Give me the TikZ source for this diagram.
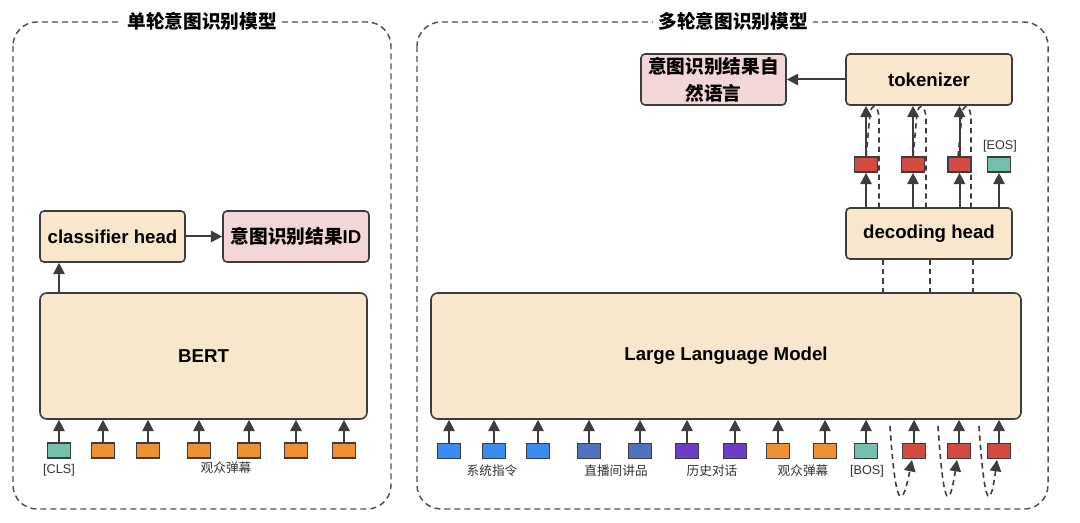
\documentclass[tikz,border=0pt]{standalone}
\usepackage{fontspec}
\setmainfont{Liberation Sans}
\newfontfamily\cjk{Noto Sans CJK SC}
\usetikzlibrary{arrows.meta}
\definecolor{boxfill}{HTML}{F9E7CB}
\definecolor{pinkfill}{HTML}{F3D6D8}
\definecolor{linegray}{HTML}{3D3D3D}
\definecolor{framegray}{HTML}{505050}
\definecolor{labelgray}{HTML}{333333}
\definecolor{tokteal}{HTML}{74BFAD}
\definecolor{tokorange}{HTML}{EC9235}
\definecolor{tokblue}{HTML}{3A8CF2}
\definecolor{toksteel}{HTML}{4F71BE}
\definecolor{tokpurple}{HTML}{6A3DC6}
\definecolor{tokred}{HTML}{D44A40}
\begin{document}
\begin{tikzpicture}[x=0.75pt, y=-0.75pt,
    every node/.style={font=\fontsize{14pt}{17pt}\selectfont\bfseries},
    block/.style={draw=linegray, line width=1.2pt, rounded corners=3pt, fill=boxfill,
        minimum height=38.25pt, inner sep=0pt, align=center},
    tokbox/.style={draw=linegray, line width=1.3pt, minimum width=17.25pt,
        minimum height=11.25pt, inner sep=0pt},
    frame/.style={draw=framegray, dash pattern=on 4.5pt off 3pt, line width=1.1pt, rounded corners=18pt},
    frametitle/.style={fill=white, inner xsep=4pt, font={\cjk\fontsize{14pt}{17pt}\selectfont\bfseries}},
    lbl/.style={font={\fontsize{9.5pt}{11pt}\selectfont}, text=labelgray},
    cjklbl/.style={font={\cjk\fontsize{9.5pt}{11pt}\selectfont}, text=labelgray},
    arr/.style={draw=linegray, line width=1.5pt, -{Triangle[length=8.5pt,width=8.5pt]}},
    loopline/.style={draw=linegray, line width=1.2pt, dash pattern=on 4pt off 3pt}]
    \useasboundingbox (0,0) rectangle (1080,523);

    % the two dashed frames
    \draw[frame] (13,22) rectangle (391,509);
    \draw[frame] (417,22) rectangle (1048,509);
    \node[frametitle] (title1) at (202,21) {单轮意图识别模型};
    \node[frametitle] (title2) at (733,21) {多轮意图识别模型};

    % left: single turn
    \node[block, minimum width=108.75pt] (clshead) at (112.5,236.5) {classifier head};
    \node[block, minimum width=109.5pt, fill=pinkfill] (clsres) at (296,236.5) {{\cjk 意图识别结果}ID};
    \node[block, minimum width=245.25pt, minimum height=94.5pt, rounded corners=5pt] (bert) at (203.5,356) {BERT};
    \draw[arr] (clshead) -- (clsres);

    \node[tokbox, fill=tokteal] (b0) at (59,450.5) {};
    \node[tokbox, fill=tokorange] (b1) at (103,450.5) {};
    \node[tokbox, fill=tokorange] (b2) at (148,450.5) {};
    \node[tokbox, fill=tokorange] (b3) at (199,450.5) {};
    \node[tokbox, fill=tokorange] (b4) at (249,450.5) {};
    \node[tokbox, fill=tokorange] (b5) at (296,450.5) {};
    \node[tokbox, fill=tokorange] (b6) at (344,450.5) {};
    \foreach \t in {b0,b1,b2,b3,b4,b5,b6}
        \draw[arr] (\t.north) -- (\t.north |- bert.south);
    \draw[arr] (bert.north -| b0) -- (clshead.south -| b0);

    \node[lbl] (clslbl) at (59,470) {[CLS]};
    \node[cjklbl] (danmu1) at (226,468) {观众弹幕};

    % right: multi turn
    \node[block, minimum width=108.75pt, fill=pinkfill, font={\cjk\fontsize{14pt}{20pt}\selectfont\bfseries}] (llmres) at (713.5,79.5) {意图识别结果自\\然语言};
    \node[block, minimum width=124.5pt] (tokzr) at (929,79.5) {tokenizer};
    \node[block, minimum width=124.5pt] (dechead) at (929,233.5) {decoding head};
    \node[block, minimum width=442.5pt, minimum height=94.5pt, rounded corners=5pt] (llm) at (726,356) {Large Language Model};
    \draw[arr] (tokzr) -- (llmres);

    \node[tokbox, fill=tokblue] (s1) at (449,451) {};
    \node[tokbox, fill=tokblue] (s2) at (494,451) {};
    \node[tokbox, fill=tokblue] (s3) at (538,451) {};
    \node[tokbox, fill=toksteel] (p1) at (589,451) {};
    \node[tokbox, fill=toksteel] (p2) at (640,451) {};
    \node[tokbox, fill=tokpurple] (h1) at (687,451) {};
    \node[tokbox, fill=tokpurple] (h2) at (735,451) {};
    \node[tokbox, fill=tokorange] (d1) at (778,451) {};
    \node[tokbox, fill=tokorange] (d2) at (825,451) {};
    \node[tokbox, fill=tokteal] (bos) at (866,451) {};
    \node[tokbox, fill=tokred] (r1) at (914,451) {};
    \node[tokbox, fill=tokred] (r2) at (959,451) {};
    \node[tokbox, fill=tokred] (r3) at (999,451) {};
    \foreach \t in {s1,s2,s3,p1,p2,h1,h2,d1,d2,bos,r1,r2,r3}
        \draw[arr] (\t.north) -- (\t.north |- llm.south);

    \node[tokbox, fill=tokred] (o1) at (866,164.5) {};
    \node[tokbox, fill=tokred] (o2) at (913,164.5) {};
    \node[tokbox, fill=tokred] (o3) at (959.5,164.5) {};
    \node[tokbox, fill=tokteal] (eos) at (999,164.5) {};
    \foreach \t in {o1,o2,o3,eos}
        \draw[arr] (\t.south |- dechead.north) -- (\t.south);
    \foreach \t in {o1,o2,o3}
        \draw[arr] (\t.north) -- (\t.north |- tokzr.south);

    % feedback loops, dashed
    \foreach \x in {883,930,973}
        \draw[loopline] (\x,293) -- (\x,259);
    \foreach \x in {879,926,971}
        \draw[loopline] (\x,208) -- (\x,120) .. controls (\x,104) and (\x-8,103) .. (\x-9,114) -- (\x-13,157);
    \draw[loopline, -{Triangle[length=8.5pt,width=8.5pt]}] (890,426) .. controls (896,518) and (903,505) .. (912,460);
    \draw[loopline, -{Triangle[length=8.5pt,width=8.5pt]}] (938,426) .. controls (944,518) and (950,505) .. (957,460);
    \draw[loopline, -{Triangle[length=8.5pt,width=8.5pt]}] (979,426) .. controls (985,518) and (991,505) .. (997,460);

    \node[cjklbl] (sys) at (492,471) {系统指令};
    \node[cjklbl] (goods) at (616,471) {直播间讲品};
    \node[cjklbl] (hist) at (712,471) {历史对话};
    \node[cjklbl] (danmu2) at (803,471) {观众弹幕};
    \node[lbl] (boslbl) at (867,471) {[BOS]};
    \node[lbl] (eoslbl) at (1000,146) {[EOS]};
\end{tikzpicture}
\end{document}
